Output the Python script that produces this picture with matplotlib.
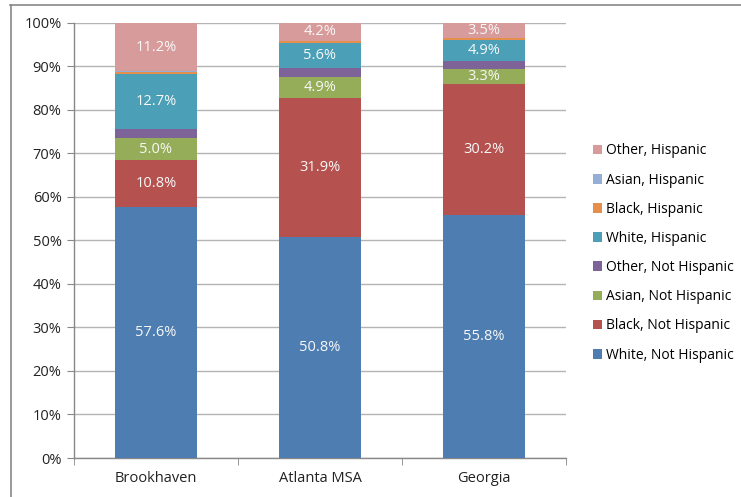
import matplotlib.pyplot as plt
from matplotlib.lines import Line2D
from matplotlib.patches import Patch
from matplotlib.ticker import FixedLocator, PercentFormatter

plt.rcParams["font.family"] = ["Open Sans", "DejaVu Sans"]

places = ["Brookhaven", "Atlanta MSA", "Georgia"]

series = ["White, Not Hispanic", "Black, Not Hispanic", "Asian, Not Hispanic",
          "Other, Not Hispanic", "White, Hispanic", "Black, Hispanic",
          "Asian, Hispanic", "Other, Hispanic"]

white_nh = [57.6, 50.8, 55.8]
black_nh = [10.8, 31.9, 30.2]
asian_nh = [5.0, 4.9, 3.3]
other_nh = [2.1, 2.1, 1.9]
white_h = [12.7, 5.6, 4.9]
black_h = [0.5, 0.4, 0.3]
asian_h = [0.1, 0.1, 0.1]
other_h = [11.2, 4.2, 3.5]

values = [white_nh, black_nh, asian_nh, other_nh, white_h, black_h, asian_h, other_h]

colors = ["#4E7DB1", "#B5524F", "#95AD58", "#7E6399",
          "#4BA0B7", "#E68F4C", "#94AED6", "#D89B9B"]

# which series get a value label
labelled = [True, True, True, False, True, False, False, True]


def main():
    fig = plt.figure(figsize=(7.41, 4.97), dpi=100)
    ax = fig.add_axes([74 / 741, 39 / 497, 492 / 741, 435.3 / 497])

    x = list(range(len(places)))
    bottom = [0.0] * len(places)
    for vals, col, lab in zip(values, colors, labelled):
        bars = ax.bar(x, vals, bottom=bottom, width=0.5, color=col, zorder=3)
        if lab:
            for b, v, b0 in zip(bars, vals, bottom):
                ax.text(b.get_x() + b.get_width() / 2, b0 + v / 2, f"{v:.1f}%",
                        ha="center", va="center", color="#F8F8F8", fontsize=10.5,
                        zorder=4)
        bottom = [b0 + v for b0, v in zip(bottom, vals)]

    ax.set_xlim(-0.5, len(places) - 0.5)
    ax.set_ylim(0, 100)
    ax.set_yticks(range(0, 101, 10))
    ax.yaxis.set_major_formatter(PercentFormatter(decimals=0))
    ax.yaxis.grid(True, color="#B4B4B4", linewidth=1.0, zorder=0)

    ax.set_xticks(x)
    ax.set_xticklabels(places)
    ax.xaxis.set_minor_locator(FixedLocator([-0.5, 0.5, 1.5, 2.5]))
    ax.tick_params(axis="x", which="major", length=0, pad=9, labelsize=10.5,
                   labelcolor="#222222")
    ax.tick_params(axis="x", which="minor", length=5, color="#888888")
    ax.tick_params(axis="y", length=5, color="#888888", labelsize=10.5,
                   labelcolor="#222222", pad=4)

    for side in ["top", "right"]:
        ax.spines[side].set_visible(False)
    for side in ["left", "bottom"]:
        ax.spines[side].set_color("#888888")
        ax.spines[side].set_linewidth(1.0)

    handles = [Patch(facecolor=c, edgecolor="none") for c in colors][::-1]
    fig.legend(handles, series[::-1], loc="center left",
               bbox_to_anchor=(587 / 741, 1 - 253 / 497), frameon=False,
               fontsize=10, handlelength=0.7, handleheight=0.7, handletextpad=0.3,
               labelspacing=1.02, borderaxespad=0)

    # chart frame border
    fig.add_artist(Line2D([10 / 741, 1], [1 - 4.5 / 497, 1 - 4.5 / 497],
                          color="#888888", linewidth=1.2, transform=fig.transFigure))
    fig.add_artist(Line2D([10.5 / 741, 10.5 / 741], [0, 1 - 4.5 / 497],
                          color="#888888", linewidth=1.2, transform=fig.transFigure))

    fig.savefig("out.png", dpi=100)


if __name__ == "__main__":
    main()
